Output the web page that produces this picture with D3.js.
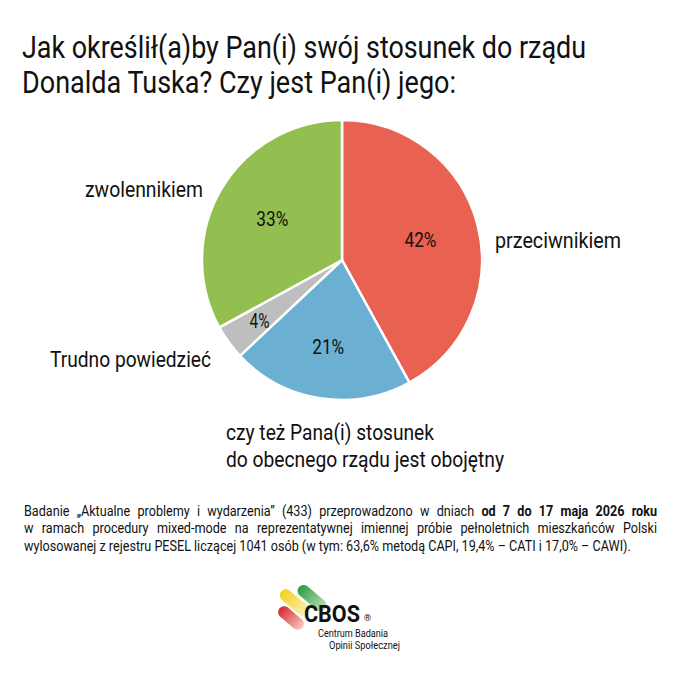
<!DOCTYPE html>
<html>
<head>
<meta charset="utf-8">
<script src="https://cdn.jsdelivr.net/npm/d3@7"></script>
<style>
  body { margin: 0; background: #fff; }
  text { font-family: Roboto, "Noto Sans", sans-serif; fill: #111; }
</style>
</head>
<body>
<div id="chart"></div>
<script>
// data
var categories = ["przeciwnikiem", "czy też Pana(i) stosunek|do obecnego rządu jest obojętny", "Trudno powiedzieć", "zwolennikiem"];
var values = [42, 21, 4, 33];
var colors = ["#E86151", "#6BAFD2", "#BEBEBE", "#93BE50"];

var titleLines = ["Jak określił(a)by Pan(i) swój stosunek do rządu", "Donalda Tuska? Czy jest Pan(i) jego:"];

var noteLines = [
  ["Badanie „Aktualne problemy i wydarzenia” (433) przeprowadzono w dniach ", "od 7 do 17 maja 2026 roku"],
  ["w ramach procedury mixed-mode na reprezentatywnej imiennej próbie pełnoletnich mieszkańców Polski"],
  ["wylosowanej z rejestru PESEL liczącej 1041 osób (w tym: 63,6% metodą CAPI, 19,4% – CATI i 17,0% – CAWI)."]
];

var width = 680, height = 679;
var cx = 342, cy = 260, radius = 140;

var svg = d3.select("#chart")
  .append("svg")
    .attr("width", width)
    .attr("height", height);

// title (condensed look: smaller font stretched vertically)
svg.selectAll(".title")
  .data(titleLines)
  .enter()
  .append("text")
    .attr("class", "title")
    .attr("transform", function(d, i) { return "translate(22," + (58 + i * 35) + ") scale(1,1.16)"; })
    .attr("textLength", function(d, i) { return i == 0 ? 564 : 434; })
    .attr("lengthAdjust", "spacingAndGlyphs")
    .style("font-size", "27.5px")
    .text(function(d) { return d; });

var data = categories.map(function(c, i) { return {name: c, value: values[i], color: colors[i]}; });

var pie = d3.pie()
  .sort(null)
  .value(function(d) { return d.value; });

var arc = d3.arc().innerRadius(0).outerRadius(radius);

var g = svg.append("g")
  .attr("transform", "translate(" + cx + "," + cy + ")");

var arcs = pie(data);

g.selectAll("path")
  .data(arcs)
  .enter()
  .append("path")
    .attr("d", arc)
    .attr("fill", function(d) { return d.data.color; })
    .attr("stroke", "#fff")
    .attr("stroke-width", 2.5);

// percent labels
g.selectAll(".pct")
  .data(arcs)
  .enter()
  .append("text")
    .attr("class", "pct")
    .attr("transform", function(d) {
      var r = d.data.value < 10 ? 102 : (d.data.value < 25 ? 88 : 81);
      var c = d3.arc().innerRadius(r).outerRadius(r).centroid(d);
      return "translate(" + c[0] + "," + c[1] + ")";
    })
    .attr("text-anchor", "middle")
    .attr("dy", "0.36em")
    .attr("textLength", function(d) { return d.data.value < 10 ? 20 : 32; })
    .attr("lengthAdjust", "spacingAndGlyphs")
    .style("font-size", "21px")
    .text(function(d) { return d.data.value + "%"; });

// category labels
var labelPos = [
  {x: 495, y: 248, w: [126]},
  {x: 226, y: 440, w: [208, 278]},
  {x: 50, y: 367, w: [161]},
  {x: 85, y: 197, w: [118]}
];

data.forEach(function(d, i) {
  var p = labelPos[i];
  d.name.split("|").forEach(function(line, j) {
    svg.append("text")
      .attr("x", p.x)
      .attr("y", p.y + j * 27)
      .attr("textLength", p.w[j])
      .attr("lengthAdjust", "spacingAndGlyphs")
      .style("font-size", "21.5px")
      .text(line);
  });
});

// footnote: condensed by scaling, first two lines justified with word spacing
var noteX = 24, noteW = 633, sx = 0.87;
var note = svg.append("g")
  .attr("transform", "translate(" + noteX + ",0) scale(" + sx + ",1)")
  .style("font-size", "14.5px");

noteLines.forEach(function(parts, i) {
  var t = note.append("text").attr("x", 0).attr("y", 516 + i * 17.5);
  parts.forEach(function(p, j) {
    t.append("tspan").style("font-weight", j == 1 ? "bold" : null).text(p);
  });
  if (i < 2) {
    var full = parts.join("");
    var spaces = full.split(" ").length - 1;
    var L = t.node().getComputedTextLength();
    t.attr("word-spacing", (noteW / sx - L) / spaces);
  }
});

// logo
var defs = svg.append("defs");
var pills = [
  {id: "gy", c1: "#F2D21B", c2: "#FBF3C0", x: 295, y: 603, len: 36},
  {id: "gg", c1: "#2E9A45", c2: "#BFE3B0", x: 312, y: 598, len: 34},
  {id: "gr", c1: "#D9262C", c2: "#F6C9C4", x: 291, y: 618, len: 30}
];
pills.forEach(function(p) {
  var lg = defs.append("linearGradient").attr("id", p.id);
  lg.append("stop").attr("offset", "0%").attr("stop-color", p.c1);
  lg.append("stop").attr("offset", "100%").attr("stop-color", p.c2);
  svg.append("rect")
    .attr("x", -p.len / 2).attr("y", -6)
    .attr("width", p.len).attr("height", 12)
    .attr("rx", 6)
    .attr("fill", "url(#" + p.id + ")")
    .attr("transform", "translate(" + p.x + "," + p.y + ") rotate(40)");
});
svg.append("text").attr("x", 304).attr("y", 622)
  .attr("textLength", 56).attr("lengthAdjust", "spacingAndGlyphs")
  .style("font-size", "23px").style("font-weight", "bold").text("CBOS");
svg.append("text").attr("x", 364).attr("y", 621)
  .style("font-size", "9px").text("®");
svg.append("text").attr("x", 318).attr("y", 637)
  .attr("textLength", 70).attr("lengthAdjust", "spacingAndGlyphs")
  .style("font-size", "10px").text("Centrum Badania");
svg.append("text").attr("x", 329).attr("y", 649)
  .attr("textLength", 71).attr("lengthAdjust", "spacingAndGlyphs")
  .style("font-size", "10px").text("Opinii Społecznej");
</script>
</body>
</html>
